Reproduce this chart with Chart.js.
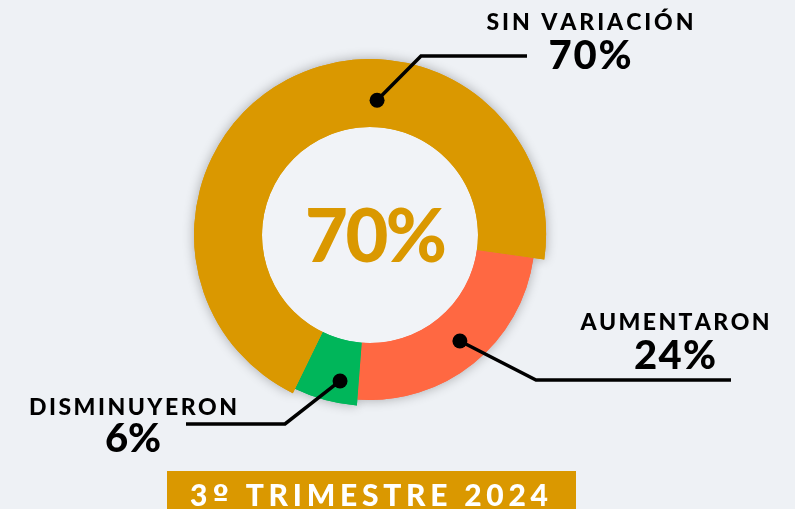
<!DOCTYPE html>
<html><head><meta charset="utf-8">
<script src="https://cdn.jsdelivr.net/npm/chart.js@4.4.1/dist/chart.umd.min.js"></script>
<style>
html,body{margin:0;padding:0;background:#eef1f5;}
#wrap{position:relative;width:795px;height:509px;overflow:hidden;background:#eef1f5}
canvas{position:absolute;left:0;top:0}
</style></head><body>
<div id="wrap"><canvas id="c" width="795" height="509"></canvas></div>
<script>
// ---- data ----
const categories = ['AUMENTARON', 'DISMINUYERON', 'SIN VARIACIÓN'];
const values = [24, 6, 70];
const valueLabels = ['24%', '6%', '70%'];
const centerLabel = '70%';
const bannerLabel = '3º TRIMESTRE 2024';

// ---- styles ----
const colors = ['#FF6842', '#00B65A', '#DA9800'];
const segmentRadiusScale = [0.9375, 0.972, 1];
const bgColor = '#eef1f5';
const holeColor = '#f1f3f7';
const callouts = [
  {dotAngle: 139.7, dotRadius: 139, elbow: [536, 380], end: [731, 380], textX: 675, labelY: 330, valueY: 369, labelW: 189, valueW: 82},
  {dotAngle: 191.6, dotRadius: 149, elbow: [285, 424], end: [186, 424], textX: 133, labelY: 415, valueY: 452, labelW: 208, valueW: 56},
  {dotAngle: 3, dotRadius: 135, elbow: [421, 56], end: [527, 56], textX: 590, labelY: 30, valueY: 69, labelW: 207, valueW: 83}
];
const FONT = 'Lato, "Open Sans", sans-serif';
const ALT_FONT = '"DejaVu Sans", sans-serif';

function drawFit(ctx, text, cx, baseline, weight, size, targetW, altChars) {
  const chars = Array.from(text);
  const fontFor = c => (altChars && altChars.includes(c)) ? `bold ${size}px ${ALT_FONT}` : `${weight} ${size}px ${FONT}`;
  const widths = chars.map(c => { ctx.font = fontFor(c); return ctx.measureText(c).width; });
  const raw = widths.reduce((a, b) => a + b, 0);
  const sp = chars.length > 1 ? (targetW - raw) / (chars.length - 1) : 0;
  let x = cx - targetW / 2;
  ctx.textAlign = 'left';
  ctx.textBaseline = 'alphabetic';
  chars.forEach((c, i) => { ctx.font = fontFor(c); ctx.fillText(c, x, baseline); x += widths[i] + sp; });
}

const radiusPlugin = {
  id: 'segRadius',
  afterDatasetsUpdate(chart) {
    const meta = chart.getDatasetMeta(0);
    const R = meta.controller.outerRadius;
    meta.data.forEach((arc, i) => { arc.outerRadius = R * segmentRadiusScale[i]; });
  },
  beforeDatasetsDraw(chart) {
    const ctx = chart.ctx;
    const meta = chart.getDatasetMeta(0);
    ctx.save();
    ctx.shadowColor = 'rgba(0,0,0,0.30)';
    ctx.shadowBlur = 12;
    meta.data.forEach(arc => {
      const ir = arc.innerRadius;
      arc.innerRadius = 0;
      arc.draw(ctx);
      arc.innerRadius = ir;
    });
    ctx.restore();
    const a0 = meta.data[0];
    ctx.save();
    ctx.fillStyle = holeColor;
    ctx.beginPath();
    ctx.arc(a0.x, a0.y, a0.innerRadius, 0, Math.PI * 2);
    ctx.fill();
    ctx.restore();
  },
  afterDraw(chart) {
    const ctx = chart.ctx;
    const meta = chart.getDatasetMeta(0);
    const cx = meta.data[0].x, cy = meta.data[0].y;
    ctx.save();
    // center label
    ctx.fillStyle = colors[2];
    drawFit(ctx, centerLabel, cx + 6, 262, 900, 74, 142);
    // callouts
    callouts.forEach((c, i) => {
      const ang = (c.dotAngle - 90) * Math.PI / 180;
      const dx = cx + Math.cos(ang) * c.dotRadius;
      const dy = cy + Math.sin(ang) * c.dotRadius;
      ctx.strokeStyle = '#000';
      ctx.lineWidth = 3.5;
      ctx.lineJoin = 'miter';
      ctx.beginPath();
      ctx.moveTo(dx, dy);
      ctx.lineTo(c.elbow[0], c.elbow[1]);
      ctx.lineTo(c.end[0], c.end[1]);
      ctx.stroke();
      ctx.fillStyle = '#000';
      ctx.beginPath();
      ctx.arc(dx, dy, 7.5, 0, Math.PI * 2);
      ctx.fill();
      drawFit(ctx, categories[i], c.textX, c.labelY, 900, 23, c.labelW);
      drawFit(ctx, valueLabels[i], c.textX, c.valueY, 900, 40, c.valueW);
    });
    // banner
    ctx.fillStyle = colors[2];
    ctx.fillRect(167, 471, 409, 40);
    ctx.fillStyle = '#ffffff';
    drawFit(ctx, bannerLabel, 369, 506, 900, 30, 358, ['º']);
    ctx.restore();
  }
};

new Chart(document.getElementById('c'), {
  type: 'doughnut',
  data: {
    labels: categories,
    datasets: [{
      data: values,
      backgroundColor: colors,
      borderWidth: 0,
      hoverOffset: 0
    }]
  },
  options: {
    responsive: false,
    animation: false,
    rotation: 98,
    cutout: 108,
    layout: {padding: {left: 194, right: 249, top: 59, bottom: 98}},
    plugins: {legend: {display: false}, tooltip: {enabled: false}},
    events: []
  },
  plugins: [radiusPlugin]
});
</script>
</body></html>
